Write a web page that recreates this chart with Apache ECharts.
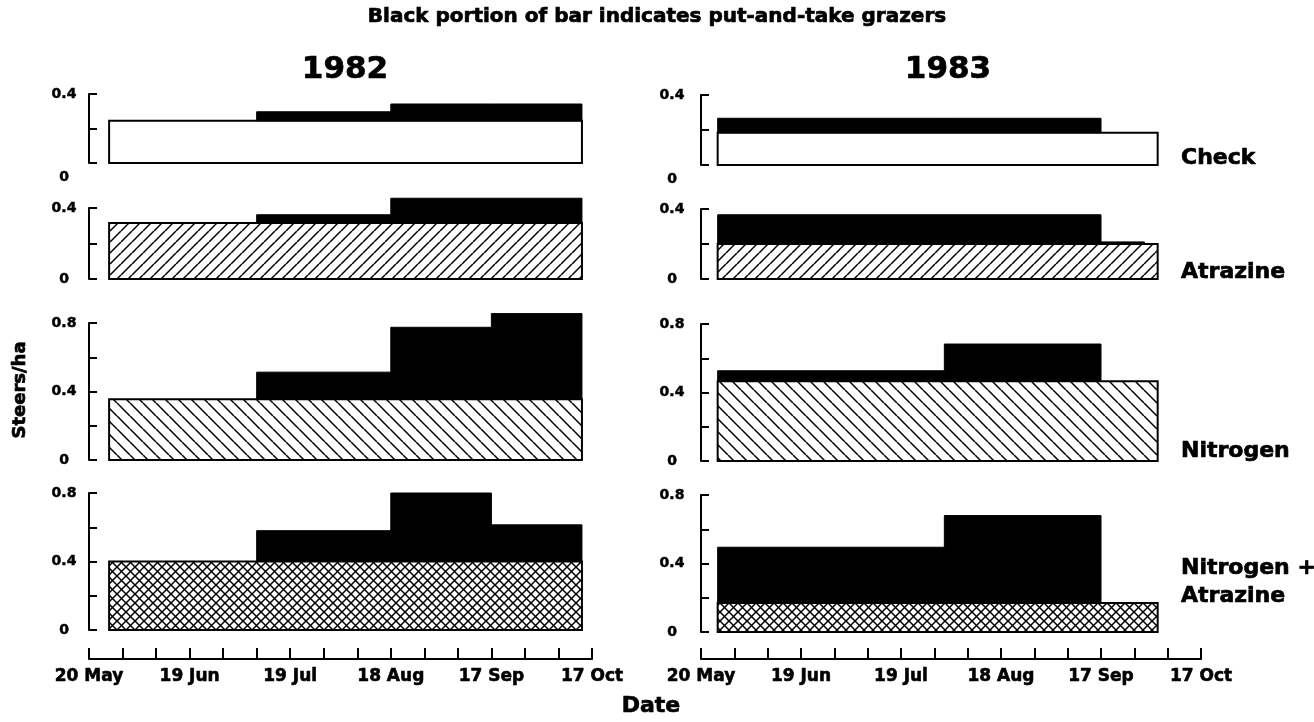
<!DOCTYPE html>
<html>
<head>
<meta charset="utf-8">
<title>Steers/ha</title>
<script src="https://cdn.jsdelivr.net/npm/echarts@6/dist/echarts.min.js"></script>
<style>
  html, body { margin: 0; padding: 0; background: #fff; }
  #chart { width: 1314px; height: 722px; }
</style>
</head>
<body>
<div id="chart"></div>
<script>
// grazing period edges for each year
var edges1982 = ['26 May', '9 Jul', '18 Aug', '17 Sep', '14 Oct'];
var edges1983 = ['25 May', '1 Aug', '17 Sep', '30 Sep', '4 Oct'];
var dateTicks = ['20 May', '19 Jun', '19 Jul', '18 Aug', '17 Sep', '17 Oct'];
var treatments = ['Check', 'Atrazine', 'Nitrogen', 'Nitrogen +\nAtrazine'];
var yMax = [0.4, 0.4, 0.8, 0.8];

// resident steers (patterned part), one per treatment
var base1982 = [0.245, 0.315, 0.355, 0.40];
var base1983 = [0.185, 0.20, 0.465, 0.17];

// put-and-take steers (black part), one per period
var check1982 = [0, 0.052, 0.097, 0.097];
var atrazine1982 = [0, 0.047, 0.14, 0.14];
var nitrogen1982 = [0, 0.158, 0.42, 0.50];
var nitroAtra1982 = [0, 0.18, 0.40, 0.214];

var check1983 = [0.082, 0.082, 0, 0];
var atrazine1983 = [0.167, 0.167, 0.012, 0];
var nitrogen1983 = [0.062, 0.218, 0, 0];
var nitroAtra1983 = [0.325, 0.51, 0, 0];

var years = [
  {edges: edges1982, base: base1982, extra: [check1982, atrazine1982, nitrogen1982, nitroAtra1982]},
  {edges: edges1983, base: base1983, extra: [check1983, atrazine1983, nitrogen1983, nitroAtra1983]}
];

var MONTHS = {May: 4, Jun: 5, Jul: 6, Aug: 7, Sep: 8, Oct: 9};
function dayOf(label) {
  var p = label.split(' ');
  return (Date.UTC(1982, MONTHS[p[1]], +p[0]) - Date.UTC(1982, 4, 20)) / 86400000;
}

function hatch(size, dirs) {
  var c = document.createElement('canvas');
  c.width = size; c.height = size;
  var ctx = c.getContext('2d');
  ctx.fillStyle = '#fff';
  ctx.fillRect(0, 0, size, size);
  ctx.strokeStyle = '#000';
  ctx.lineWidth = 1.5;
  dirs.forEach(function (d) {
    for (var k = -1; k <= 1; k++) {
      ctx.beginPath();
      if (d === '/') { ctx.moveTo(k * size, size); ctx.lineTo(k * size + size, 0); }
      else { ctx.moveTo(k * size, 0); ctx.lineTo(k * size + size, size); }
      ctx.stroke();
    }
  });
  return {image: c, repeat: 'repeat'};
}
var fills = ['#fff', hatch(11, ['/']), hatch(13, ['\\']), hatch(9, ['/', '\\'])];

// layout
var FONT = 'DejaVu Sans';
var colLeft = [89, 701], colWidth = [503, 500];
var rowTop = [[94, 208, 323, 493], [95, 209, 324, 495]];
var rowHeight = [[69, 71, 137, 137], [70, 70, 137, 137]];
var axisOffset = [7, 9];
var labelMargin = [18, 20];
var heavy = {textBorderColor: '#000', textBorderWidth: 0.6};

var grids = [], xAxes = [], yAxes = [], series = [];

function baseRender(fill) {
  return function (params, api) {
    var p0 = api.coord([api.value(0), 0]);
    var p1 = api.coord([api.value(1), api.value(2)]);
    return {
      type: 'rect',
      shape: {x: p0[0], y: p1[1], width: p1[0] - p0[0], height: p0[1] - p1[1]},
      style: {fill: fill, stroke: '#000', lineWidth: 2}
    };
  };
}
function blackRender(params, api) {
  var p0 = api.coord([api.value(0), api.value(2)]);
  var p1 = api.coord([api.value(1), api.value(3)]);
  return {
    type: 'rect',
    shape: {x: p0[0], y: p1[1], width: p1[0] - p0[0], height: p0[1] - p1[1]},
    style: {fill: '#000', stroke: '#000', lineWidth: 1}
  };
}

years.forEach(function (yr, c) {
  treatments.forEach(function (t, r) {
    var gi = grids.length;
    grids.push({left: colLeft[c], width: colWidth[c], top: rowTop[c][r], height: rowHeight[c][r]});
    xAxes.push({type: 'value', gridIndex: gi, min: 0, max: 150, show: false});
    yAxes.push({
      type: 'value', gridIndex: gi, min: 0, max: yMax[r], interval: 0.2,
      offset: axisOffset[c],
      axisLine: {show: true, lineStyle: {color: '#000', width: 2}},
      axisTick: {show: true, inside: true, length: 8, lineStyle: {color: '#000', width: 2}},
      splitLine: {show: false},
      axisLabel: {
        align: 'center', margin: labelMargin[c],
        fontFamily: FONT, fontWeight: 'bold', fontSize: 14, color: '#000',
        textBorderColor: '#000', textBorderWidth: 0.5,
        formatter: function (v) {
          var k = Math.round(v * 10);
          if (k % 4 !== 0) return '';
          if (r === 0 && k === 0) return '{lo|0}';
          return k === 0 ? '0' : (k / 10).toFixed(1);
        },
        rich: {lo: {fontFamily: FONT, fontWeight: 'bold', fontSize: 14, color: '#000',
          textBorderColor: '#000', textBorderWidth: 0.5, padding: [28, 0, 0, 0]}}
      }
    });
    var edges = yr.edges;
    var b = yr.base[r];
    series.push({
      type: 'custom', xAxisIndex: gi, yAxisIndex: gi, silent: true,
      renderItem: baseRender(fills[r]),
      data: [[dayOf(edges[0]), dayOf(edges[edges.length - 1]), b]]
    });
    var blackData = [];
    yr.extra[r].forEach(function (v, i) {
      if (v > 0) blackData.push([dayOf(edges[i]), dayOf(edges[i + 1]), b, b + v]);
    });
    series.push({
      type: 'custom', xAxisIndex: gi, yAxisIndex: gi, silent: true,
      renderItem: blackRender, data: blackData
    });
  });
});

// date axes under each column
[0, 1].forEach(function (c) {
  var gi = grids.length;
  grids.push({left: colLeft[c], width: colWidth[c], top: 630, height: 29});
  xAxes.push({
    type: 'value', gridIndex: gi, min: 0, max: 150, interval: 10, position: 'bottom',
    axisLine: {show: true, lineStyle: {color: '#000', width: 2}},
    axisTick: {show: true, inside: true, length: 11, lineStyle: {color: '#000', width: 2}},
    splitLine: {show: false},
    axisLabel: {
      margin: 9, fontFamily: FONT, fontWeight: 'bold', fontSize: 17, color: '#000',
      textBorderColor: '#000', textBorderWidth: 0.6,
      showMinLabel: true, showMaxLabel: true,
      formatter: function (v) { return v % 30 === 0 ? dateTicks[v / 30] : ''; }
    }
  });
  yAxes.push({type: 'value', gridIndex: gi, show: false});
});

function txt(text, x, y, size, align, extra) {
  var el = {
    type: 'text', x: x, y: y, silent: true,
    style: {
      text: text, fill: '#000', fontFamily: FONT, fontWeight: 'bold', fontSize: size,
      textAlign: align, textVerticalAlign: 'middle', align: align, verticalAlign: 'middle',
      lineHeight: size + 6, stroke: '#000', lineWidth: 0.7
    }
  };
  if (extra) for (var k in extra) el[k] = extra[k];
  return el;
}

var graphics = [
  txt('Black portion of bar indicates put-and-take grazers', 657, 17, 20, 'center'),
  txt('1982', 345, 70, 31, 'center'),
  txt('1983', 948, 70, 31, 'center'),
  txt('Steers/ha', 20, 390, 18, 'center', {rotation: Math.PI / 2}),
  txt('Date', 651, 706, 22, 'center')
];
var labelY = [158, 272, 451, 582];
treatments.forEach(function (t, r) {
  graphics.push(txt(t, 1181, labelY[r], 22, 'left'));
});

var chart = echarts.init(document.getElementById('chart'), null, {renderer: 'canvas'});
chart.setOption({
  backgroundColor: '#fff',
  animation: false,
  grid: grids,
  xAxis: xAxes,
  yAxis: yAxes,
  series: series,
  graphic: graphics
});
</script>
</body>
</html>
